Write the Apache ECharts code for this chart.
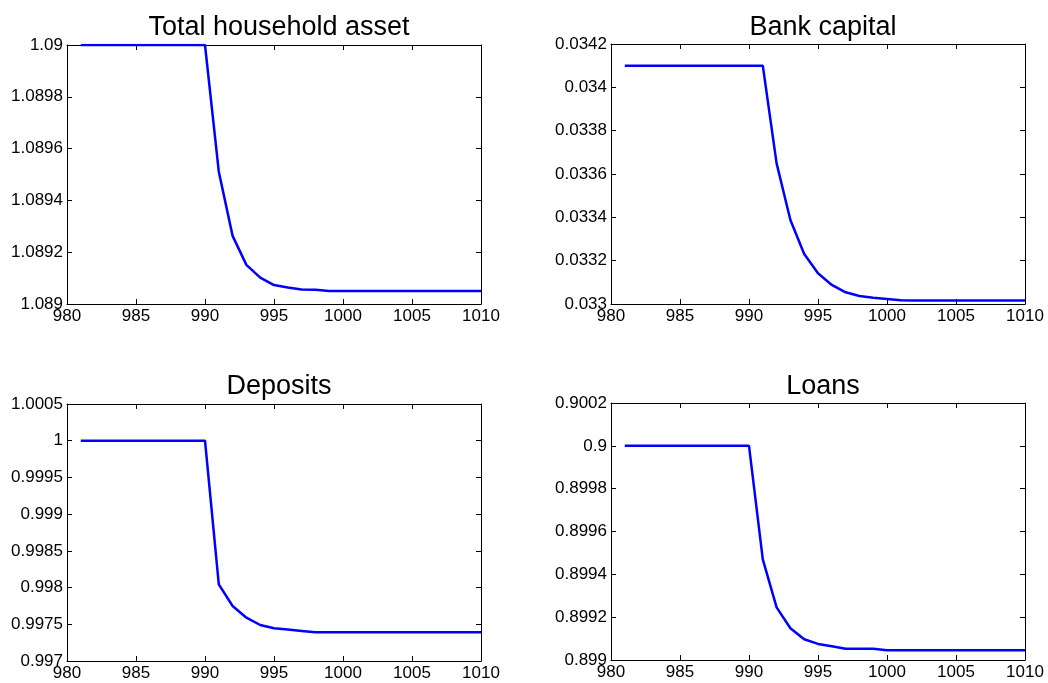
<!DOCTYPE html>
<html>
<head>
<meta charset="utf-8">
<script src="https://cdn.jsdelivr.net/npm/echarts@6/dist/echarts.min.js"></script>
<style>html,body{margin:0;padding:0;background:#fff}#c{width:1048px;height:683px}</style>
</head>
<body>
<div id="c"></div>
<script>
const periods = [981,982,983,984,985,986,987,988,989,990,991,992,993,994,995,996,997,998,999,1000,1001,1002,1003,1004,1005,1006,1007,1008,1009,1010];
const titles = ["Total household asset", "Bank capital", "Deposits", "Loans"];
const householdAsset = [1.09,1.09,1.09,1.09,1.09,1.09,1.09,1.09,1.09,1.09,1.089511,1.089263,1.089151,1.089102,1.089073,1.089064,1.089056,1.089055,1.08905,1.08905,1.08905,1.08905,1.08905,1.08905,1.08905,1.08905,1.08905,1.08905,1.08905,1.08905];
const bankCapital = [0.0341,0.0341,0.0341,0.0341,0.0341,0.0341,0.0341,0.0341,0.0341,0.0341,0.0341,0.033649,0.033388,0.033231,0.033142,0.033088,0.033054,0.033037,0.033029,0.033023,0.033017,0.033016,0.033016,0.033016,0.033016,0.033016,0.033016,0.033016,0.033016,0.033016];
const deposits = [1,1,1,1,1,1,1,1,1,1,0.998044,0.997749,0.99759,0.99749,0.997445,0.99743,0.99741,0.99739,0.99739,0.99739,0.99739,0.99739,0.99739,0.99739,0.99739,0.99739,0.99739,0.99739,0.99739,0.99739];
const loans = [0.9,0.9,0.9,0.9,0.9,0.9,0.9,0.9,0.9,0.9,0.89947,0.899246,0.899148,0.899097,0.899075,0.899064,0.899053,0.899053,0.899053,0.899045,0.899045,0.899045,0.899045,0.899045,0.899045,0.899045,0.899045,0.899045,0.899045,0.899045];
const xTicks = {min: 980, max: 1010, interval: 5};
const yRanges = [
  {min: 1.089, max: 1.09, interval: 0.0002},
  {min: 0.033, max: 0.0342, interval: 0.0002},
  {min: 0.997, max: 1.0005, interval: 0.0005},
  {min: 0.899, max: 0.9002, interval: 0.0002}
];
const seriesData = [householdAsset, bankCapital, deposits, loans];

const grids = [
  {left: 67, top: 45, width: 414, height: 259},
  {left: 611, top: 44, width: 414, height: 260},
  {left: 67, top: 404, width: 414, height: 257},
  {left: 611, top: 403, width: 414, height: 257}
];
const titleTops = [9, 9, 368, 368];
const FONT = "'Liberation Sans', Arial, sans-serif";
const fmt = v => String(parseFloat(Number(v).toFixed(6)));

const xAxis = [], yAxis = [], series = [], title = [];
grids.forEach((g, i) => {
  const axLine = {show: true, lineStyle: {color: '#000', width: 1}};
  const tick = {show: true, inside: true, length: 5, lineStyle: {color: '#000'}};
  xAxis.push({type: 'value', gridIndex: i, position: 'bottom', min: xTicks.min, max: xTicks.max, interval: xTicks.interval,
    axisLine: axLine, axisTick: tick, splitLine: {show: false},
    axisLabel: {color: '#000', fontSize: 17, fontFamily: FONT, margin: 4, formatter: v => String(v), showMinLabel: true, showMaxLabel: true}});
  xAxis.push({type: 'value', gridIndex: i, position: 'top', min: xTicks.min, max: xTicks.max, interval: xTicks.interval,
    axisLine: axLine, axisTick: tick, splitLine: {show: false}, axisLabel: {show: false}});
  const r = yRanges[i];
  yAxis.push({type: 'value', gridIndex: i, position: 'left', min: r.min, max: r.max, interval: r.interval,
    axisLine: axLine, axisTick: tick, splitLine: {show: false},
    axisLabel: {color: '#000', fontSize: 17, fontFamily: FONT, margin: 4, formatter: fmt, showMinLabel: true, showMaxLabel: true}});
  yAxis.push({type: 'value', gridIndex: i, position: 'right', min: r.min, max: r.max, interval: r.interval,
    axisLine: axLine, axisTick: tick, splitLine: {show: false}, axisLabel: {show: false}});
  series.push({type: 'line', xAxisIndex: 2 * i, yAxisIndex: 2 * i, showSymbol: false, symbol: 'none',
    lineStyle: {color: '#0000ff', width: 2.5}, animation: false,
    data: periods.map((p, k) => [p, seriesData[i][k]])});
  title.push({text: titles[i], left: g.left + g.width / 2, top: titleTops[i], textAlign: 'center',
    textStyle: {fontSize: 27, fontWeight: 'normal', color: '#000', fontFamily: FONT}});
});

const chart = echarts.init(document.getElementById('c'), null, {renderer: 'canvas'});
chart.setOption({animation: false, backgroundColor: '#fff', title, grid: grids, xAxis, yAxis, series});
</script>
</body>
</html>
